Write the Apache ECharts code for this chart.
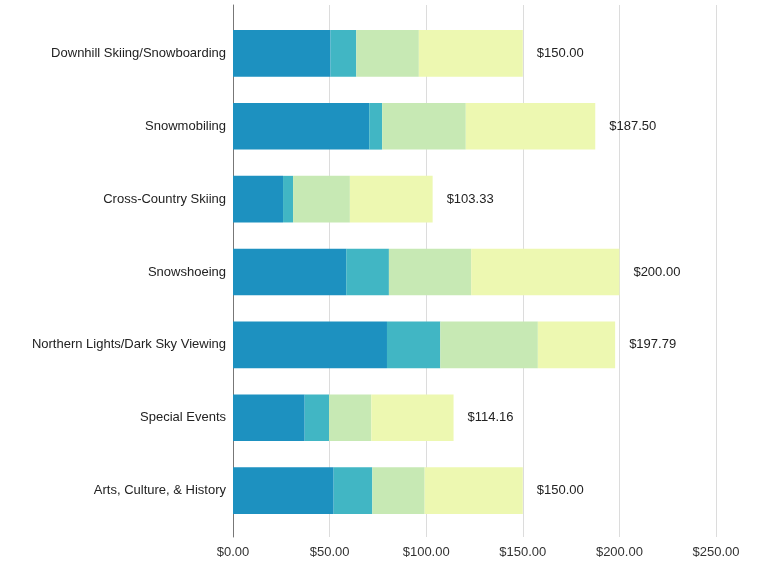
<!DOCTYPE html>
<html>
<head>
<meta charset="utf-8">
<script src="https://cdn.jsdelivr.net/npm/echarts@6/dist/echarts.min.js"></script>
<style>
  html, body { margin: 0; padding: 0; background: #fff; }
  #chart { width: 759px; height: 565px; }
</style>
</head>
<body>
<div id="chart"></div>
<script>
const categories = [
  'Downhill Skiing/Snowboarding',
  'Snowmobiling',
  'Cross-Country Skiing',
  'Snowshoeing',
  'Northern Lights/Dark Sky Viewing',
  'Special Events',
  'Arts, Culture, & History'
];
// four stacked segments per activity
const seg1 = [50.5, 70.5, 25.9, 58.6, 79.7, 37.1, 52.1];
const seg2 = [13.3, 6.7, 5.2, 22.1, 27.6, 12.6, 20.0];
const seg3 = [32.4, 43.3, 29.4, 42.6, 50.5, 21.9, 27.1];
const seg4 = [53.8, 67.0, 42.83, 76.7, 39.99, 42.56, 50.8];
const totals = [150.00, 187.50, 103.33, 200.00, 197.79, 114.16, 150.00];

const colors = ['#1d91c0', '#41b6c4', '#c7e9b4', '#edf8b1'];
const fontFamily = '"Liberation Sans", Arial, sans-serif';

const chart = echarts.init(document.getElementById('chart'));

const makeSeries = (data, i) => ({
  type: 'bar',
  stack: 'total',
  xAxisIndex: 1,
  yAxisIndex: 1,
  data: data,
  barWidth: '64%',
  itemStyle: { color: colors[i] },
  emphasis: { disabled: true }
});

const series = [seg1, seg2, seg3, seg4].map(makeSeries);
series[3].label = {
  show: true,
  position: 'right',
  distance: 14,
  color: '#222',
  fontSize: 13,
  fontFamily: fontFamily,
  formatter: (p) => '$' + totals[p.dataIndex].toFixed(2)
};

chart.setOption({
  animation: false,
  grid: [
    // background grid: gridlines, axis line and tick labels
    { left: 233, right: 43, top: 5, bottom: 28 },
    // bars
    { left: 233, right: 43, top: 17, bottom: 38 }
  ],
  xAxis: [
    {
      type: 'value',
      gridIndex: 0,
      min: 0,
      max: 250,
      interval: 50,
      axisLine: { show: false },
      axisTick: { show: false },
      splitLine: { lineStyle: { color: '#dcdcdc' } },
      axisLabel: {
        color: '#333',
        fontSize: 13,
        fontFamily: fontFamily,
        margin: 9,
        formatter: (v) => '$' + v.toFixed(2)
      }
    },
    {
      type: 'value',
      gridIndex: 1,
      min: 0,
      max: 250,
      show: false
    }
  ],
  yAxis: [
    {
      type: 'category',
      gridIndex: 0,
      data: [''],
      axisLine: { show: true, lineStyle: { color: '#777' } },
      axisTick: { show: false },
      axisLabel: { show: false }
    },
    {
      type: 'category',
      gridIndex: 1,
      data: categories,
      inverse: true,
      axisLine: { show: false },
      axisTick: { show: false },
      axisLabel: {
        color: '#222',
        fontSize: 13,
        fontFamily: fontFamily,
        margin: 7
      }
    }
  ],
  series: series
});
</script>
</body>
</html>
